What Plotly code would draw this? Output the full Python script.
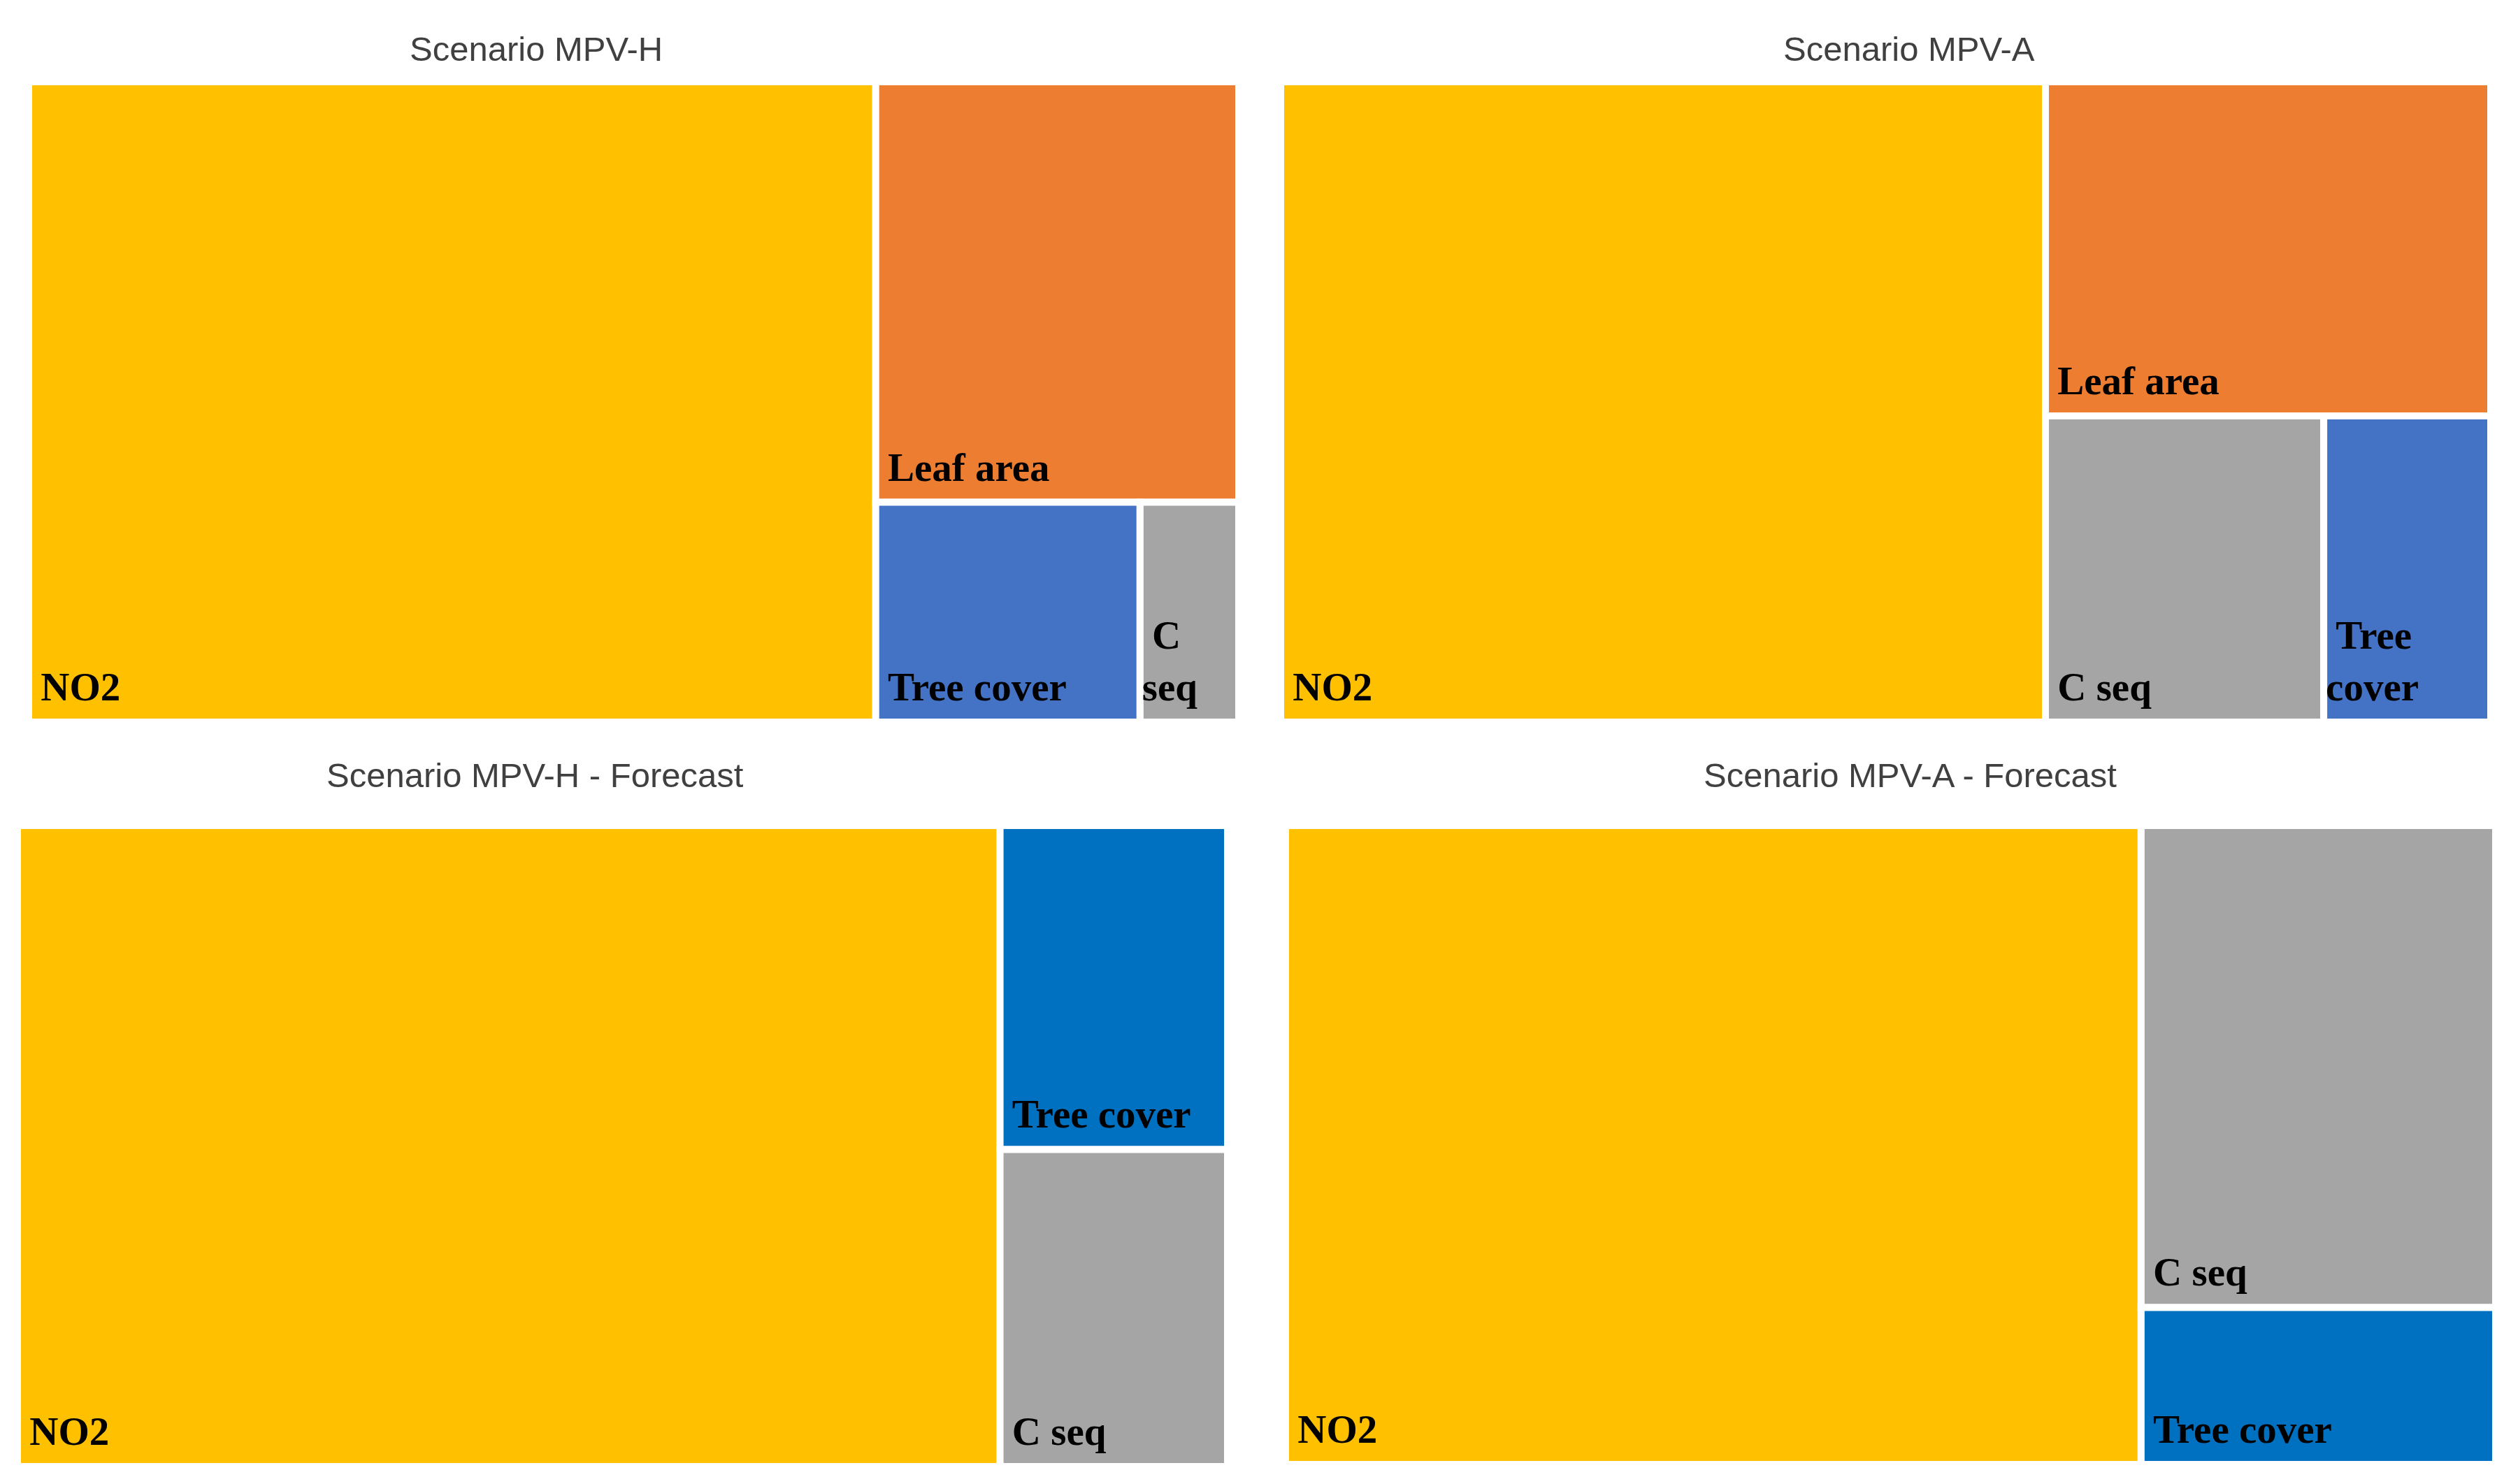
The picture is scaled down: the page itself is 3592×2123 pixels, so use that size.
import plotly.graph_objects as go

# ---- data (shares of each indicator) ----
cats_h = ["NO2", "Leaf area", "Tree cover", "C seq"]
vals_h = [70.0, 19.7, 7.5, 2.8]
text_h = ["NO2", "Leaf area", "Tree cover", "C<br>seq"]

cats_a = ["NO2", "Leaf area", "C seq", "Tree cover"]
vals_a = [63.2, 19.2, 11.0, 6.6]
text_a = ["NO2", "Leaf area", "C seq", "Tree<br>cover"]

cats_hf = ["NO2", "Tree cover", "C seq"]
vals_hf = [81.2, 9.5, 9.3]
text_hf = ["NO2", "Tree cover", "C seq"]

cats_af = ["NO2", "C seq", "Tree cover"]
vals_af = [70.7, 22.1, 7.2]
text_af = ["NO2", "C seq", "Tree cover"]

titles = ["Scenario MPV-H", "Scenario MPV-A",
          "Scenario MPV-H - Forecast", "Scenario MPV-A - Forecast"]

# ---- styling ----
PAGE_W, PAGE_H = 3592, 2123
OFF = 8                      # default body margin of the html page
W, H = PAGE_W - OFF, PAGE_H - OFF
GAP = 10
col_base = {"NO2": "#FFC000", "Leaf area": "#ED7D31", "C seq": "#A5A5A5", "Tree cover": "#4472C4"}
col_fc = {"NO2": "#FFC000", "Leaf area": "#ED7D31", "C seq": "#A5A5A5", "Tree cover": "#0070C0"}

# panel boxes in page pixels: (left, right, top, bottom)
boxes = [(46, 1767, 122, 1028), (1837, 3558, 122, 1028),
         (30, 1751, 1186, 2093), (1844, 3565, 1186, 2090)]
title_pos = [(767, 70), (2731, 70), (765, 1109), (2732, 1109)]


def fx(px):
    return (px - OFF) / W


def fy(py):
    return 1 - (py - OFF) / H


def dom(b):
    l, r, t, bt = b
    h = GAP / 2
    return dict(x=[fx(l - h), fx(r + h)], y=[fy(bt + h), fy(t - h)])


panels = [(cats_h, vals_h, text_h, col_base), (cats_a, vals_a, text_a, col_base),
          (cats_hf, vals_hf, text_hf, col_fc), (cats_af, vals_af, text_af, col_fc)]

fig = go.Figure()
for (cats, vals, txt, cmap), box in zip(panels, boxes):
    fig.add_trace(go.Treemap(
        labels=cats,
        parents=[""] * len(cats),
        values=vals,
        text=txt,
        texttemplate="\u00a0%{text}<span style='font-size:130px'>\u00a0</span>",
        textposition="bottom left",
        textfont=dict(family="Liberation Serif", size=57, color="black", weight="bold"),
        marker=dict(colors=[cmap[c] for c in cats],
                    line=dict(width=GAP, color="white"),
                    pad=dict(t=0, l=0, r=0, b=0)),
        pathbar=dict(visible=False),
        tiling=dict(packing="squarify", squarifyratio=1, pad=0),
        sort=True,
        domain=dom(box),
        hoverinfo="label+value",
    ))

for t, (x, y) in zip(titles, title_pos):
    fig.add_annotation(text=t, x=fx(x), y=fy(y), xref="paper", yref="paper",
                       xanchor="center", yanchor="middle", showarrow=False,
                       font=dict(family="Liberation Sans", size=49, color="#404040"))

fig.update_layout(
    width=W, height=H,
    margin=dict(l=0, r=0, t=0, b=0),
    paper_bgcolor="white",
    plot_bgcolor="white",
    showlegend=False,
    uniformtext=dict(minsize=57, mode="show"),
)

fig.write_html("out.html")
